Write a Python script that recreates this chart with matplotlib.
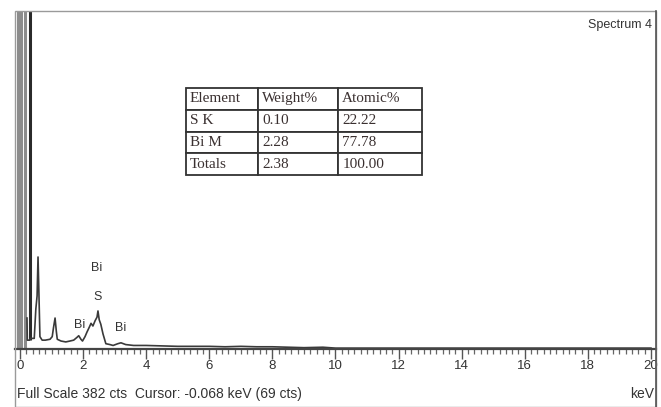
import matplotlib
matplotlib.use("Agg")
import matplotlib.pyplot as plt
from matplotlib.lines import Line2D
from matplotlib.patches import Rectangle
from matplotlib.ticker import MultipleLocator

plt.rcParams['font.family'] = ['Liberation Sans', 'DejaVu Sans']

# off-scale noise peak strokes near 0 keV
noise_e = [-0.08, 0.04, 0.17]
noise_top = [1500, 1500, 1500]
# strong low-energy line, also off-scale
strong_e = [0.31]
strong_top = [1500]

# EDS spectrum trace (keV, counts)
energy = [0.22, 0.23, 0.30, 0.32, 0.45, 0.50, 0.54, 0.57, 0.60, 0.63, 0.70,
          0.80, 0.95, 1.02, 1.06, 1.11, 1.15, 1.18, 1.30, 1.45, 1.58, 1.70,
          1.80, 1.86, 1.93, 1.98, 2.06, 2.12, 2.20, 2.25, 2.31, 2.38, 2.44,
          2.47, 2.51, 2.56, 2.63, 2.72, 2.85, 2.95, 3.10, 3.20, 3.35, 3.60,
          4.0, 4.5, 5.0, 5.5, 6.0, 6.5, 7.0, 7.5, 8.0, 8.5, 9.0, 9.6, 10.0,
          12.0, 14.0, 16.0, 18.0, 20.0]
counts = [35, 10, 10, 12, 12, 45, 60, 104, 60, 14, 10,
          10, 11, 14, 24, 35, 20, 11, 9, 8, 9, 10,
          13, 15, 11, 9, 14, 19, 25, 29, 26, 32, 36,
          43, 33, 28, 17, 6, 5, 4, 6, 7, 5, 4,
          4, 3.5, 3, 3, 3, 2.5, 3, 2.5, 2.5, 2, 1.5, 2, 1,
          1, 1, 1, 1, 1]

# peak labels
peak_names = ['Bi', 'S', 'Bi', 'Bi']
peak_e = [2.44, 2.47, 1.90, 3.20]
peak_c = [92, 59, 27, 24]

# quantification table
tbl_header = ['Element', 'Weight%', 'Atomic%']
tbl_element = ['S K', 'Bi M', 'Totals']
tbl_weight = ['0.10', '2.28', '2.38']
tbl_atomic = ['22.22', '77.78', '100.00']

full_scale = 382
W, H = 661, 407

fig = plt.figure(figsize=(W / 100, H / 100), dpi=100)
fig.patch.set_facecolor('white')

# outer frame
fig.add_artist(Rectangle((15 / W, 0), 641 / W, 396 / H, transform=fig.transFigure,
                         fill=False, edgecolor='#9a9a9a', lw=1.0))
fig.add_artist(Line2D([656 / W, 656 / W], [0, 396 / H], transform=fig.transFigure,
                      color='#555555', lw=1.2))

ax = fig.add_axes([15 / W, (H - 349) / H, 641 / W, 338 / H])
ax.set_xlim(-0.16, 20.16)
ax.set_ylim(0, full_scale)
ax.set_facecolor('none')

ax.vlines(noise_e, 0, noise_top, colors='#8c8c8c', lw=2.2)
ax.vlines(strong_e, 10, strong_top, colors='#2a2a2a', lw=2.2)
ax.plot(energy, counts, color='#3a3a3a', lw=1.2)

for name, e, c in zip(peak_names, peak_e, peak_c):
    ax.text(e, c, name, ha='center', va='center', fontsize=9, color='#333333')

for side in ['left', 'top', 'right']:
    ax.spines[side].set_visible(False)
ax.spines['bottom'].set_color('#444444')
ax.spines['bottom'].set_linewidth(1.6)

ax.yaxis.set_visible(False)
ax.xaxis.set_major_locator(MultipleLocator(2))
ax.xaxis.set_minor_locator(MultipleLocator(0.2))
ax.tick_params(axis='x', which='major', direction='out', length=7, width=1.0,
               color='#555555', labelsize=9.5, labelcolor='#333333', pad=1)
ax.tick_params(axis='x', which='minor', direction='out', length=3.5, width=0.9,
               color='#666666')
ax.set_xticks(range(0, 21, 2))
ax.set_xticklabels([str(v) for v in range(0, 21, 2)])

# quantification table
cells = [[el, w, a] for el, w, a in zip(tbl_element, tbl_weight, tbl_atomic)]
tab = ax.table(cellText=cells, colLabels=tbl_header, cellLoc='left',
               colLoc='left', colWidths=[0.305, 0.339, 0.356],
               bbox=[(186 - 15) / 641, (349 - 175) / 338, 236 / 641, 87 / 338])
tab.auto_set_font_size(False)
for (r, c), cell in tab.get_celld().items():
    cell.set_edgecolor('#333333')
    cell.set_linewidth(1.3)
    cell.set_facecolor('white')
    cell.PAD = 0.05
    cell.get_text().set_fontsize(11)
    cell.get_text().set_fontfamily(['Liberation Serif', 'DejaVu Serif'])
    cell.get_text().set_color('#3a3030')

fig.text(652 / W, (H - 25) / H, 'Spectrum 4', ha='right', va='center',
         fontsize=9, color='#333333')
fig.text(17 / W, (H - 394) / H, 'Full Scale 382 cts  Cursor: -0.068 keV (69 cts)',
         ha='left', va='center', fontsize=10, color='#333333')
fig.text(654 / W, (H - 394) / H, 'keV', ha='right', va='center',
         fontsize=10, color='#333333')

fig.savefig('out.png', dpi=100, facecolor='white')
